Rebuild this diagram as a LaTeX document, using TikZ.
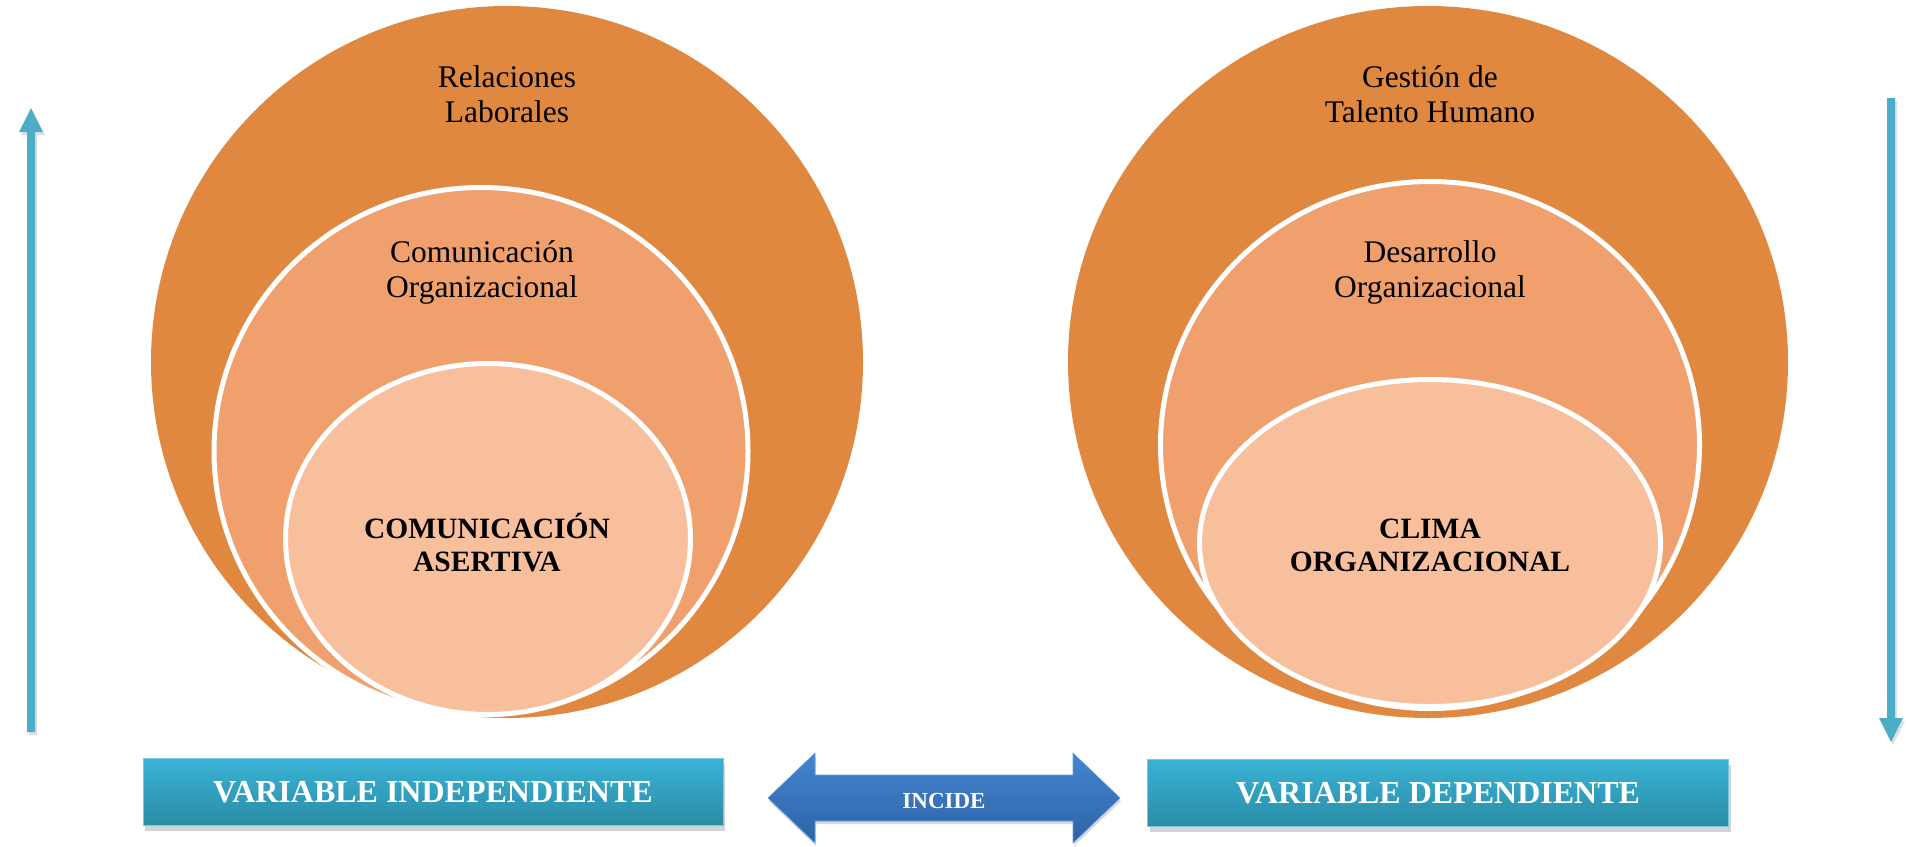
\documentclass[tikz,border=0pt]{standalone}
\usepackage{fontspec}
\setmainfont{Liberation Serif}
\usetikzlibrary{shapes.geometric,shadows}
\definecolor{oOuter}{HTML}{E0883F}
\definecolor{oMid}{HTML}{EFA06D}
\definecolor{oIn}{HTML}{F8BF9D}
\definecolor{cyanT}{HTML}{3AB3D4}
\definecolor{cyanB}{HTML}{2A8CA6}
\definecolor{blueT}{HTML}{4286D0}
\definecolor{blueB}{HTML}{2E62A6}
\definecolor{vArrow}{HTML}{4BADC8}
\begin{document}
\begin{tikzpicture}[x=1pt,y=-1pt,
  outerc/.style={ellipse, inner sep=0pt, fill=oOuter},
  midc/.style={ellipse, inner sep=0pt, fill=oMid, draw=white, line width=5pt},
  innc/.style={ellipse, inner sep=0pt, fill=oIn, draw=white, line width=5pt},
  lbl/.style={font=\fontsize{31.5}{34.5}\selectfont, align=center, text=black, inner sep=0pt},
  blbl/.style={font=\fontsize{29.5}{33}\selectfont\bfseries, align=center, text=black, inner sep=0pt},
  varbox/.style={rectangle, top color=cyanT, bottom color=cyanB, draw=cyanT!70!white, line width=1pt,
     minimum width=580pt, minimum height=67pt, text=white, font=\fontsize{32}{36}\selectfont\bfseries,
     drop shadow={opacity=0.35, shadow xshift=2pt, shadow yshift=-5pt}},
  varrow/.style={fill=vArrow, drop shadow={opacity=0.25, shadow xshift=2pt, shadow yshift=-3pt}},
  incarrow/.style={top color=blueT, bottom color=blueB, draw=blueT!80!white, line width=0.6pt,
     drop shadow={opacity=0.3, shadow xshift=1pt, shadow yshift=-3pt}}
]
\useasboundingbox (0,0) rectangle (1906,846);

% left stack
\node[outerc, minimum width=712pt, minimum height=712pt] (outL) at (507,362) {};
\node[midc, minimum width=534pt, minimum height=527pt] (midL) at (481,451) {};
\node[innc, minimum width=405pt, minimum height=351pt] (inL) at (488,539) {};

% right stack
\node[outerc, minimum width=720pt, minimum height=712pt] (outR) at (1428,362) {};
\node[midc, minimum width=539pt, minimum height=527pt] (midR) at (1430,445) {};
\node[innc, minimum width=461pt, minimum height=327pt] (inR) at (1430,543) {};

% labels
\node[lbl] (tRL) at (507,94) {Relaciones\\Laborales};
\node[lbl] (tCO) at (482,272.5) {Comunicación\\Organizacional};
\node[blbl] (tCA) at (487,543) {COMUNICACIÓN\\ASERTIVA};
\node[lbl] (tGT) at (1430,94) {Gestión de\\Talento Humano};
\node[lbl] (tDO) at (1430,272.5) {Desarrollo\\Organizacional};
\node[blbl] (tCL) at (1430,545.5) {CLIMA\\ORGANIZACIONAL};

% vertical arrows
\path[varrow] (27,732) -- (27,132) -- (19,132) -- (31,108) -- (43,132) -- (35,132) -- (35,732) -- cycle;
\path[varrow] (1887,98) -- (1895,98) -- (1895,718) -- (1903,718) -- (1891,742) -- (1879,718) -- (1887,718) -- cycle;

% variable boxes
\node[varbox] (vi) at (433,792) {VARIABLE INDEPENDIENTE};
\node[varbox, minimum width=581pt] (vd) at (1438,793) {VARIABLE DEPENDIENTE};

% incide double arrow
\path[incarrow] (768,798) -- (815,753) -- (815,775) -- (1073,775) -- (1073,753) -- (1120,798)
   -- (1073,843) -- (1073,821) -- (815,821) -- (815,843) -- cycle;
\node[text=white, font=\fontsize{23}{26}\selectfont\bfseries] (inc) at (944,801) {INCIDE};
\end{tikzpicture}
\end{document}
